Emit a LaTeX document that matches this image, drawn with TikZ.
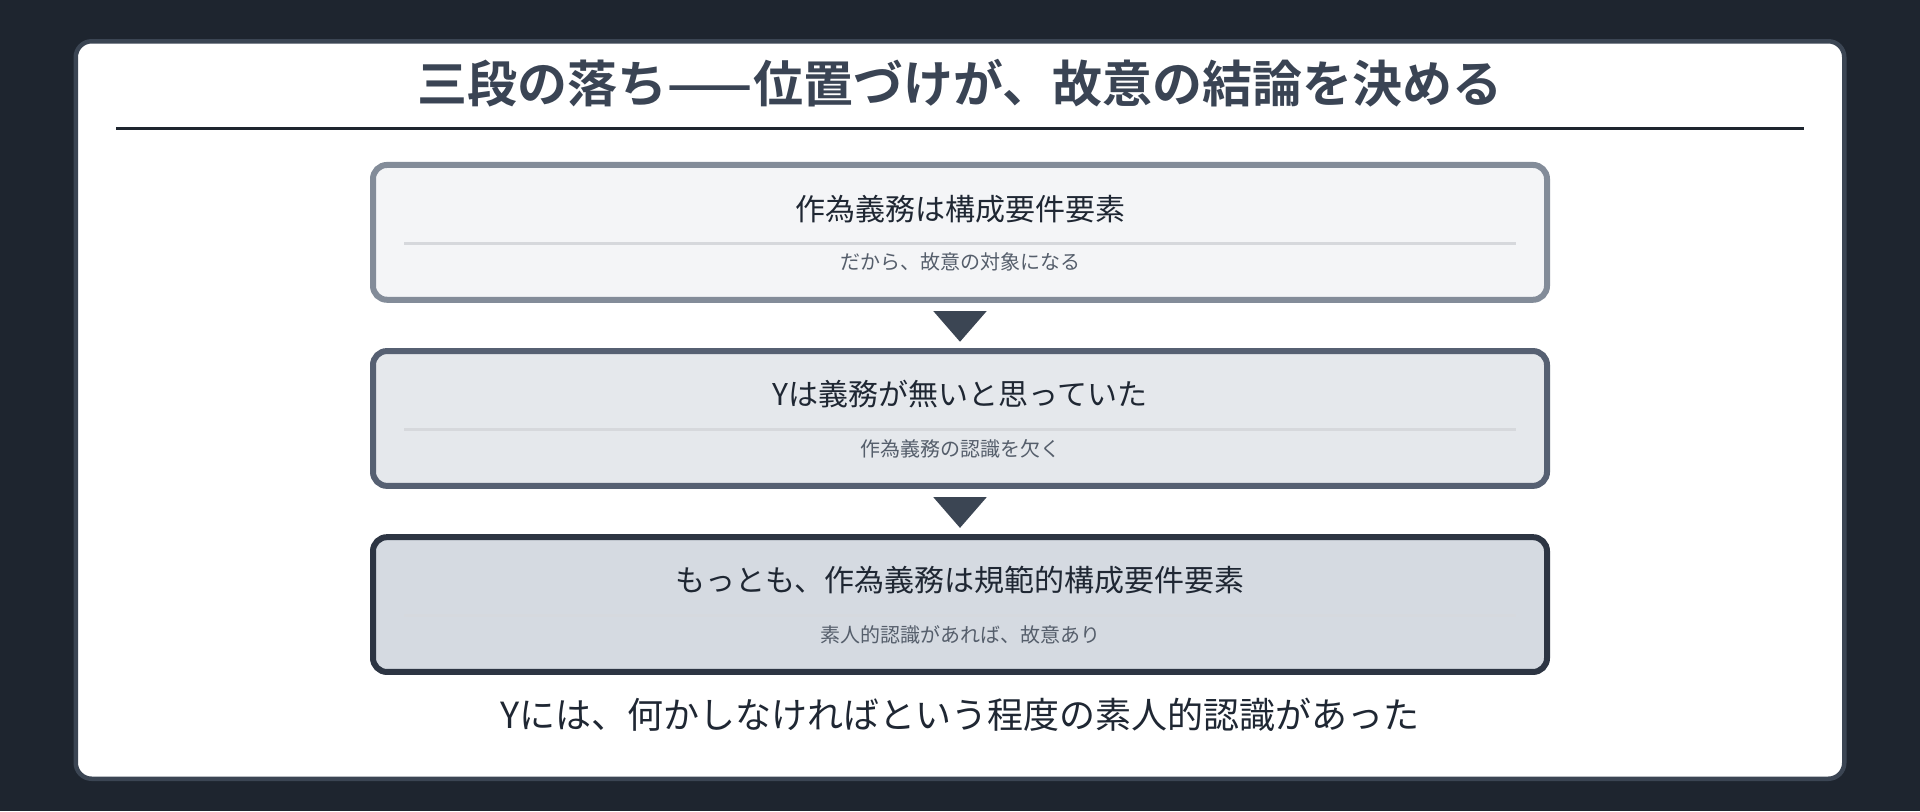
\documentclass[tikz,border=0pt]{standalone}
\usepackage{fontspec}
\setmainfont{Noto Sans CJK JP}[BoldFont = Noto Sans CJK JP Bold]
\usetikzlibrary{positioning, calc}

\definecolor{pagebg}{HTML}{1E252F}
\definecolor{cardline}{HTML}{3B4553}
\definecolor{titleink}{HTML}{3A4454}
\definecolor{mainink}{HTML}{1F2733}
\definecolor{subink}{HTML}{555E6B}
\definecolor{ruleink}{HTML}{D6D8DC}
\definecolor{lineA}{HTML}{838C99}
\definecolor{fillA}{HTML}{F4F5F7}
\definecolor{lineB}{HTML}{566072}
\definecolor{fillB}{HTML}{E5E8EC}
\definecolor{lineC}{HTML}{2D3543}
\definecolor{fillC}{HTML}{D5DAE1}

\tikzset{
    card/.style = {
        draw = cardline, 
        fill = white, 
        line width = 2.25pt, 
        rounded corners = 8pt
    },
    stage/.style = {
        rectangle, 
        line width = 3pt, 
        rounded corners = 7pt, 
        minimum width = 587pt, 
        minimum height = 67.4pt, 
        inner sep = 0pt
    },
    headtext/.style = {
        text = mainink, 
        font = \fontsize{15}{18}\selectfont, 
        inner sep = 0pt
    },
    subtext/.style = {
        text = subink, 
        font = \fontsize{10}{12}\selectfont, 
        inner sep = 0pt
    },
    divider/.style = {
        draw = ruleink, 
        line width = 1.5pt
    },
    marker/.style = {
        fill = cardline
    }
}

\begin{document}
\begin{tikzpicture}[x = 0.5pt, y = {(0pt, -0.5pt)}]
    \fill 
        [pagebg] (0, 0) rectangle (1920, 811)
    ;
    \useasboundingbox 
        (0, 0) rectangle (1920, 811)
    ;

    % Card
    \draw 
        [card] (75.75, 41.25) rectangle (1844.25, 778.75)
    ;

    % Title
    \node 
        [text = titleink, font = \bfseries\fontsize{25}{30}\selectfont, inner sep = 0pt] 
        (title) at (960, 83.3) 
        {三段の落ち——位置づけが、故意の結論を決める}
    ;
    \draw 
        [draw = pagebg, line width = 1.2pt] 
        (116, 128.6) -- (1804, 128.6)
    ;

    % Stages
    \node 
        [stage, draw = lineA, fill = fillA] 
        (box1) at (960, 232.35) {}
    ;
    \node 
        [stage, draw = lineB, fill = fillB, below = 22.65pt of box1] 
        (box2) {}
    ;
    \node 
        [stage, draw = lineC, fill = fillC, below = 22.65pt of box2] 
        (box3) {}
    ;

    % Texts
    \node [headtext] (head1) at ($(box1) + (0, -23)$) {作為義務は構成要件要素};
    \node [subtext] (note1) at ($(box1) + (0, 30)$) {だから、故意の対象になる};
    \node [headtext] (head2) at ($(box2) + (0, -24)$) {Yは義務が無いと思っていた};
    \node [subtext] (note2) at ($(box2) + (0, 30)$) {作為義務の認識を欠く};
    \node [headtext] (head3) at ($(box3) + (0, -24)$) {もっとも、作為義務は規範的構成要件要素};
    \node [subtext] (note3) at ($(box3) + (0, 30)$) {素人的認識があれば、故意あり};

    % Dividers
    \draw [divider] ($(box1) + (-556, 11)$) -- ($(box1) + (556, 11)$);
    \draw [divider] ($(box2) + (-556, 11)$) -- ($(box2) + (556, 11)$);
    \draw [divider, draw = ruleink!60!fillC] ($(box3) + (-556, 11)$) -- ($(box3) + (556, 11)$);

    % Markers
    \fill 
        [marker] 
        ($(box1.south) + (-26.7, 8.3)$) 
        -- ($(box1.south) + (26.7, 8.3)$) 
        -- ($(box1.south) + (0, 39)$) 
        -- cycle
    ;
    \fill 
        [marker] 
        ($(box2.south) + (-26.7, 8.3)$) 
        -- ($(box2.south) + (26.7, 8.3)$) 
        -- ($(box2.south) + (0, 39)$) 
        -- cycle
    ;

    % Conclusion
    \node 
        [text = mainink, font = \fontsize{18}{22}\selectfont, inner sep = 0pt] 
        (result) at (960, 715) 
        {Yには、何かしなければという程度の素人的認識があった}
    ;

\end{tikzpicture}
\end{document}
